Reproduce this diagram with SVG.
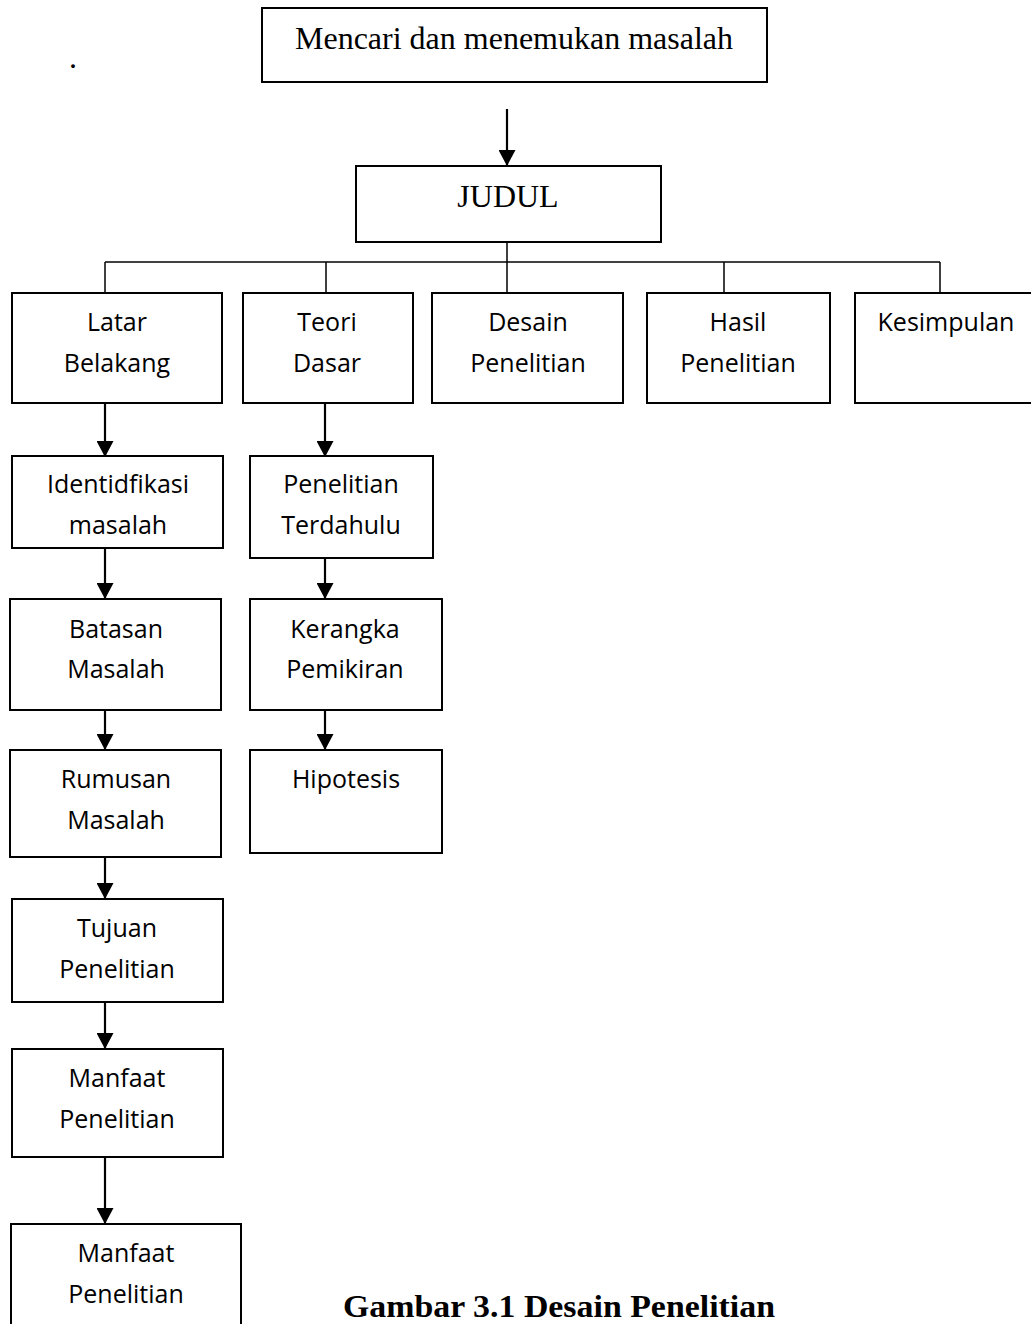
<svg xmlns="http://www.w3.org/2000/svg" width="1031" height="1324" viewBox="0 0 1031 1324">
<style>
.box{fill:#fff;stroke:#000;stroke-width:2}
.t{font-family:"Open Sans","Noto Sans",sans-serif;font-size:25px;fill:#000;text-anchor:middle}
.s{font-family:"Liberation Serif","Times New Roman",serif;font-size:32px;fill:#000;text-anchor:middle}
.c{fill:none;stroke:#000;stroke-width:2.2}
.b{fill:none;stroke:#000;stroke-width:1.5}
</style>
<defs>
<marker id="ah" markerUnits="userSpaceOnUse" markerWidth="16" markerHeight="17" refX="16" refY="8.5" orient="auto">
<path d="M0,0 L16,8.5 L0,17 Z" fill="#000"/>
</marker>
</defs>
<rect width="1031" height="1324" fill="#fff"/>
<text x="73" y="68" class="s" font-size="28">.</text>

<g id="connectors">
<line class="c" x1="507" y1="109" x2="507" y2="166" marker-end="url(#ah)"/>
<polyline class="b" points="507,242 507,262"/>
<line class="b" x1="105" y1="262" x2="940" y2="262"/>
<line class="b" x1="105" y1="262" x2="105" y2="293"/>
<line class="b" x1="326" y1="262" x2="326" y2="293"/>
<line class="b" x1="507" y1="262" x2="507" y2="293"/>
<line class="b" x1="724" y1="262" x2="724" y2="293"/>
<line class="b" x1="940" y1="262" x2="940" y2="293"/>
<line class="c" x1="105" y1="403" x2="105" y2="457" marker-end="url(#ah)"/>
<line class="c" x1="325" y1="403" x2="325" y2="457" marker-end="url(#ah)"/>
<line class="c" x1="105" y1="543" x2="105" y2="599" marker-end="url(#ah)"/>
<line class="c" x1="325" y1="558" x2="325" y2="599" marker-end="url(#ah)"/>
<line class="c" x1="105" y1="710" x2="105" y2="750" marker-end="url(#ah)"/>
<line class="c" x1="325" y1="703" x2="325" y2="750" marker-end="url(#ah)"/>
<line class="c" x1="105" y1="853" x2="105" y2="899" marker-end="url(#ah)"/>
<line class="c" x1="105" y1="1002" x2="105" y2="1049" marker-end="url(#ah)"/>
<line class="c" x1="105" y1="1157" x2="105" y2="1224" marker-end="url(#ah)"/>
</g>

<g id="n-mencari">
<rect class="box" x="262" y="8" width="505" height="74"/>
<text class="s" x="514" y="49">Mencari dan menemukan masalah</text>
</g>
<g id="n-judul">
<rect class="box" x="356" y="166" width="305" height="76"/>
<text class="s" x="508" y="207">JUDUL</text>
</g>

<g id="n-latar">
<rect class="box" x="12" y="293" width="210" height="110"/>
<text class="t" x="117" y="331">Latar</text>
<text class="t" x="117" y="372">Belakang</text>
</g>
<g id="n-teori">
<rect class="box" x="243" y="293" width="170" height="110"/>
<text class="t" x="327" y="331">Teori</text>
<text class="t" x="327" y="372">Dasar</text>
</g>
<g id="n-desain">
<rect class="box" x="432" y="293" width="191" height="110"/>
<text class="t" x="528" y="331">Desain</text>
<text class="t" x="528" y="372">Penelitian</text>
</g>
<g id="n-hasil">
<rect class="box" x="647" y="293" width="183" height="110"/>
<text class="t" x="738" y="331">Hasil</text>
<text class="t" x="738" y="372">Penelitian</text>
</g>
<g id="n-kesimpulan">
<rect class="box" x="855" y="293" width="180" height="110"/>
<text class="t" x="946" y="331">Kesimpulan</text>
</g>

<g id="n-identifikasi">
<rect class="box" x="12" y="456" width="211" height="92"/>
<text class="t" x="118" y="493">Identidfikasi</text>
<text class="t" x="118" y="534">masalah</text>
</g>
<g id="n-terdahulu">
<rect class="box" x="250" y="456" width="183" height="102"/>
<text class="t" x="341" y="493">Penelitian</text>
<text class="t" x="341" y="534">Terdahulu</text>
</g>
<g id="n-batasan">
<rect class="box" x="10" y="599" width="211" height="111"/>
<text class="t" x="116" y="638">Batasan</text>
<text class="t" x="116" y="678">Masalah</text>
</g>
<g id="n-kerangka">
<rect class="box" x="250" y="599" width="192" height="111"/>
<text class="t" x="345" y="638">Kerangka</text>
<text class="t" x="345" y="678">Pemikiran</text>
</g>
<g id="n-rumusan">
<rect class="box" x="10" y="750" width="211" height="107"/>
<text class="t" x="116" y="788">Rumusan</text>
<text class="t" x="116" y="829">Masalah</text>
</g>
<g id="n-hipotesis">
<rect class="box" x="250" y="750" width="192" height="103"/>
<text class="t" x="346" y="788">Hipotesis</text>
</g>
<g id="n-tujuan">
<rect class="box" x="12" y="899" width="211" height="103"/>
<text class="t" x="117" y="937">Tujuan</text>
<text class="t" x="117" y="978">Penelitian</text>
</g>
<g id="n-manfaat1">
<rect class="box" x="12" y="1049" width="211" height="108"/>
<text class="t" x="117" y="1087">Manfaat</text>
<text class="t" x="117" y="1128">Penelitian</text>
</g>
<g id="n-manfaat2">
<rect class="box" x="11" y="1224" width="230" height="110"/>
<text class="t" x="126" y="1262">Manfaat</text>
<text class="t" x="126" y="1303">Penelitian</text>
</g>

<text x="559" y="1317" class="s" font-size="34" font-weight="bold" textLength="432" lengthAdjust="spacingAndGlyphs">Gambar 3.1 Desain Penelitian</text>
</svg>
